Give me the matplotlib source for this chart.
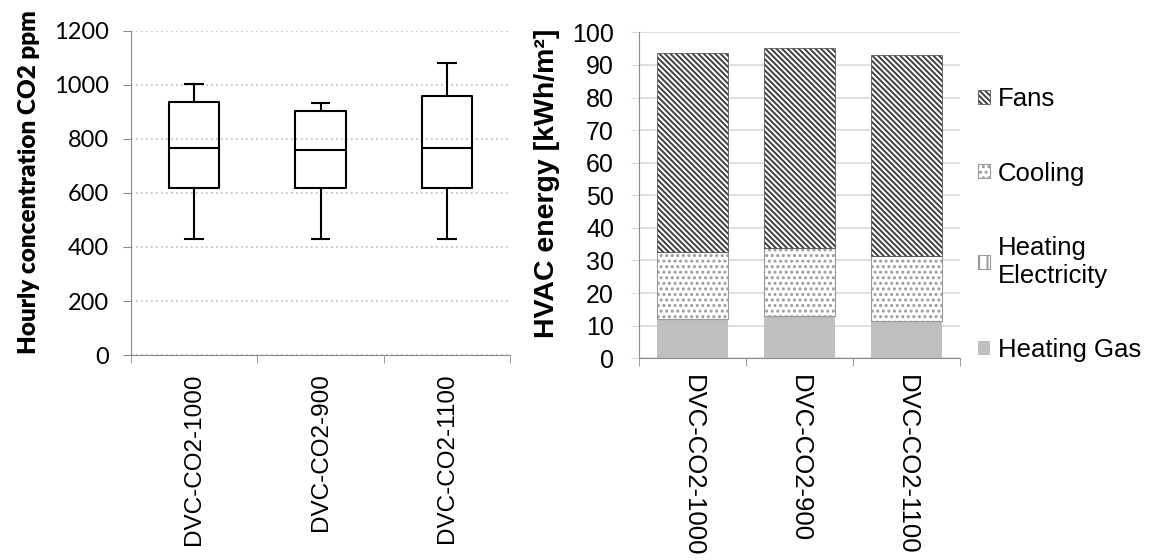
import numpy as np
import matplotlib.pyplot as plt

scenarios = ['DVC-CO2-1000', 'DVC-CO2-900', 'DVC-CO2-1100']

# box plot statistics (ppm)
co2_min = [428, 428, 428]
co2_q1 = [617, 617, 617]
co2_med = [767, 760, 767]
co2_q3 = [938, 902, 960]
co2_max = [1004, 932, 1080]

# stacked HVAC energy, kWh/m2
heating_gas = [12.0, 13.0, 11.5]
heating_elec = [0.0, 0.0, 0.0]
cooling = [20.6, 20.7, 20.0]
fans = [61.0, 61.4, 61.5]

plt.rcParams['hatch.linewidth'] = 1.4

fig = plt.figure(figsize=(11.49, 5.6), dpi=100)
ax1 = fig.add_axes([0.114, 0.366, 0.330, 0.579])
ax2 = fig.add_axes([0.5561, 0.3602, 0.2794, 0.5821])

spine_col = '#8c8c8c'

# ---- left: box plot of hourly CO2 ----
stats = []
for i in range(len(scenarios)):
    stats.append(dict(med=co2_med[i], q1=co2_q1[i], q3=co2_q3[i],
                      whislo=co2_min[i], whishi=co2_max[i], fliers=[]))
line = dict(color='black', lw=1.5)
ax1.bxp(stats, positions=range(len(scenarios)), widths=0.4, capwidths=0.14,
        showfliers=False, boxprops=line, whiskerprops=line, capprops=line,
        medianprops=line)
ax1.set_xlim(-0.5, 2.5)
ax1.set_ylim(0, 1200)
ax1.set_yticks(range(0, 1201, 200))
ax1.yaxis.grid(True, ls=(0, (1, 2)), color='#bdbdbd', lw=1.2)
ax1.set_axisbelow(True)
for s in ['top', 'right']:
    ax1.spines[s].set_visible(False)
for s in ['left', 'bottom']:
    ax1.spines[s].set_color(spine_col)
ax1.set_xticks(range(len(scenarios)))
ax1.set_xticklabels(scenarios, rotation=90, fontsize=17.5, family='Liberation Sans')
ax1.set_xticks([-0.5, 0.5, 1.5, 2.5], minor=True)
ax1.tick_params(axis='x', which='major', length=0, pad=13)
ax1.tick_params(axis='x', which='minor', length=6, color=spine_col)
ax1.tick_params(axis='y', length=6, color=spine_col, pad=10)
for t in ax1.get_yticklabels():
    t.set_family('Lato')
    t.set_fontsize(17)
ax1.set_ylabel('Hourly concentration CO2 ppm', fontsize=17.5, family='Lato', fontweight='heavy')
ax1.yaxis.set_label_coords(-0.24, 0.534)

# ---- right: stacked HVAC energy ----
x = np.arange(len(scenarios))
w = 0.66
bottom = np.zeros(len(scenarios))
b_gas = ax2.bar(x, heating_gas, w, bottom=bottom, color='#bfbfbf', lw=0, label='Heating Gas')
bottom += heating_gas
b_el = ax2.bar(x, heating_elec, w, bottom=bottom, facecolor='white', edgecolor='#9a9a9a',
               hatch='||', lw=0.8, label='Heating\nElectricity')
bottom += heating_elec
b_cool = ax2.bar(x, cooling, w, bottom=bottom, facecolor='white', edgecolor='#9a9a9a',
                 hatch='...', lw=0.8, label='Cooling')
bottom += cooling
b_fans = ax2.bar(x, fans, w, bottom=bottom, facecolor='white', edgecolor='#404040',
                 hatch='\\\\\\\\\\\\', lw=0.5, label='Fans')

ax2.set_xlim(-0.5, 2.5)
ax2.set_ylim(0, 100)
ax2.set_yticks(range(0, 101, 10))
ax2.yaxis.grid(True, color='#d9d9d9', lw=1.2)
ax2.set_axisbelow(True)
for s in ['top', 'right']:
    ax2.spines[s].set_visible(False)
for s in ['left', 'bottom']:
    ax2.spines[s].set_color(spine_col)
ax2.set_xticks(x)
ax2.set_xticklabels(scenarios, rotation=-90, fontsize=18.5, family='Liberation Sans')
ax2.set_xticks([-0.5, 0.5, 1.5, 2.5], minor=True)
ax2.tick_params(axis='x', which='major', length=0, pad=12)
ax2.tick_params(axis='x', which='minor', length=6, color=spine_col)
ax2.tick_params(axis='y', length=6, color='#d9d9d9', pad=12)
for t in ax2.get_yticklabels():
    t.set_family('Liberation Sans')
    t.set_fontsize(18)
ax2.set_ylabel('HVAC energy [kWh/m²]', fontsize=20.5, family='Liberation Sans', fontweight='bold')
ax2.yaxis.set_label_coords(-0.245, 0.536)

ax2.legend(handles=[b_fans, b_cool, b_el, b_gas], loc='center left',
           bbox_to_anchor=(1.056, 0.41), frameon=False, borderpad=0, borderaxespad=0,
           prop=dict(family='Liberation Sans', size=18.5), handlelength=0.47,
           handleheight=0.47, handletextpad=0.31, labelspacing=1.96)

fig.savefig('out.png', dpi=100)
